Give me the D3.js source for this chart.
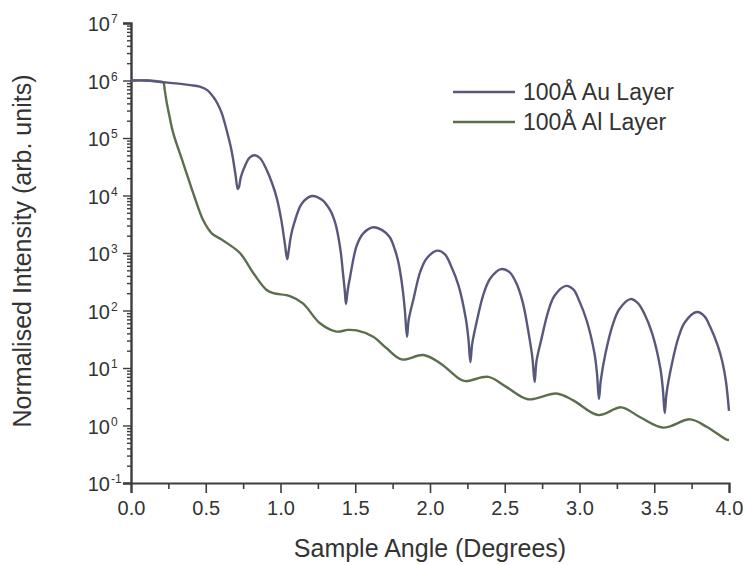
<!DOCTYPE html>
<html>
<head>
<meta charset="utf-8">
<script src="https://cdn.jsdelivr.net/npm/d3@7"></script>
<style>
  html, body { margin: 0; padding: 0; background: #fff; }
  svg { display: block; font-family: "Liberation Sans", Arial, sans-serif; }
</style>
</head>
<body>
<svg id="chart" width="745" height="565"></svg>
<script>
// ---- Data ----
const seriesNames = ["100Å Au Layer", "100Å Al Layer"];
const seriesColors = ["#58587c", "#5b6f4d"];

// [angle (deg), normalised intensity]
const auLayer = [
  [0.00,1.0e6],[0.10,1.0e6],[0.20,9.4e5],[0.30,8.9e5],[0.40,8.3e5],[0.46,7.8e5],
  [0.51,6.8e5],[0.55,5.2e5],[0.58,3.9e5],[0.607,2.7e5],[0.63,1.7e5],[0.651,1.05e5],
  [0.67,6.5e4],[0.684,4.1e4],[0.70,2.2e4],[0.714,1.3e4],[0.722,1.4e4],[0.735,2.1e4],
  [0.763,3.3e4],[0.795,4.6e4],[0.829,5.0e4],[0.865,4.4e4],[0.907,2.8e4],[0.945,1.6e4],
  [0.975,9.0e3],[1.005,3.8e3],[1.03,1.4e3],[1.045,7.8e2],[1.055,1.1e3],[1.07,2.0e3],
  [1.09,3.2e3],[1.142,7.2e3],[1.21,9.8e3],[1.275,8.5e3],[1.331,5.6e3],[1.365,3.4e3],
  [1.387,1.9e3],[1.405,9.5e2],[1.416,5.0e2],[1.43,2.2e2],[1.438,1.3e2],
  [1.45,2.3e2],[1.465,3.8e2],[1.51,1.35e3],[1.554,2.2e3],[1.62,2.8e3],[1.68,2.5e3],
  [1.73,1.9e3],[1.765,1.15e3],[1.79,6.6e2],[1.815,2.6e2],[1.832,1.0e2],[1.846,3.5e1],
  [1.858,7.0e1],[1.89,1.6e2],[1.935,4.75e2],[1.98,8.2e2],[2.05,1.1e3],[2.10,9.5e2],
  [2.138,6.2e2],[2.19,2.77e2],[2.24,7.1e1],[2.258,3.0e1],[2.27,1.27e1],
  [2.282,2.6e1],[2.313,6.5e1],[2.36,2.0e2],[2.403,3.6e2],[2.475,5.25e2],[2.53,4.7e2],
  [2.575,3.1e2],[2.62,1.4e2],[2.66,4.0e1],[2.685,1.5e1],[2.70,5.7],
  [2.712,1.3e1],[2.743,3.0e1],[2.79,9.5e1],[2.833,1.8e2],[2.91,2.68e2],[2.96,2.3e2],
  [2.997,1.5e2],[3.048,6.7e1],[3.10,1.8e1],[3.117,8.0],[3.13,2.9],
  [3.142,6.0],[3.174,1.8e1],[3.222,5.6e1],[3.266,1.05e2],[3.34,1.58e2],[3.39,1.35e2],
  [3.434,8.8e1],[3.486,4.0e1],[3.539,1.05e1],[3.557,4.5],[3.57,1.65],
  [3.582,3.6],[3.614,1.05e1],[3.662,3.4e1],[3.706,6.3e1],[3.785,9.4e1],[3.835,8.0e1],
  [3.874,5.2e1],[3.926,2.4e1],[3.955,1.3e1],[3.979,6.0],[4.00,1.8]
];

const alLayer = [
  [0.00,1.0e6],[0.10,1.0e6],[0.20,9.5e5],[0.217,9.2e5],[0.225,7.0e5],[0.24,4.0e5],
  [0.26,2.2e5],[0.283,1.2e5],[0.35,3.6e4],[0.416,1.1e4],[0.483,3.7e3],[0.54,2.2e3],
  [0.60,1.75e3],[0.64,1.5e3],[0.73,9.9e2],[0.82,4.4e2],[0.905,2.3e2],[0.952,2.0e2],
  [1.063,1.78e2],[1.15,1.33e2],[1.264,6.0e1],[1.376,4.3e1],[1.45,4.6e1],[1.51,4.5e1],
  [1.62,3.5e1],[1.71,2.2e1],[1.81,1.41e1],[1.956,1.68e1],[2.07,1.2e1],[2.20,6.4],
  [2.24,5.9],[2.39,7.0],[2.51,4.7],[2.655,2.86],[2.845,3.6],[2.955,2.77],[3.125,1.52],
  [3.28,2.07],[3.40,1.42],[3.56,0.92],[3.74,1.28],[3.85,0.95],[3.98,0.575],[4.00,0.56]
];

const xTickValues = [0, 0.5, 1.0, 1.5, 2.0, 2.5, 3.0, 3.5, 4.0];
const xTickLabels = ["0.0","0.5","1.0","1.5","2.0","2.5","3.0","3.5","4.0"];
const yExponents = [-1, 0, 1, 2, 3, 4, 5, 6, 7];
const xTitle = "Sample Angle (Degrees)";
const yTitle = "Normalised Intensity (arb. units)";

// ---- Layout ----
const svg = d3.select("#chart");
const mLeft = 131, mRight = 729, mTop = 23, mBottom = 483;
const axisColor = "#3d3d3d";
const textColor = "#333";

const x = d3.scaleLinear().domain([0, 4]).range([mLeft, mRight]);
const y = d3.scaleLog().domain([0.1, 1e7]).range([mBottom, mTop]);

// X axis
const xMinor = d3.range(0, 4.001, 0.25).filter(v => Math.abs(v * 2 - Math.round(v * 2)) > 1e-6);
const gx = svg.append("g").attr("transform", `translate(0,${mBottom})`);
gx.call(d3.axisBottom(x).tickValues(xMinor).tickSize(6).tickFormat(""))
  .call(g => g.select(".domain").remove());
gx.append("g").call(d3.axisBottom(x).tickValues(xTickValues).tickSize(10)
  .tickFormat((d, i) => xTickLabels[i]).tickPadding(8))
  .call(g => g.select(".domain").attr("stroke-width", 2.2));
gx.selectAll("line").attr("stroke", axisColor).attr("stroke-width", 1.6);
gx.selectAll(".domain").attr("stroke", axisColor);
gx.selectAll("text").attr("fill", textColor).style("font-size", "20px")
  .style("font-family", "'Liberation Sans', Arial, sans-serif");

// Y axis
const yMinor = [];
yExponents.slice(0, -1).forEach(e => { for (let k = 2; k <= 9; k++) yMinor.push(k * Math.pow(10, e)); });
const gy = svg.append("g").attr("transform", `translate(${mLeft},0)`);
gy.call(d3.axisLeft(y).tickValues(yMinor).tickSize(4).tickFormat(""))
  .call(g => g.select(".domain").remove());
gy.append("g").call(d3.axisLeft(y).tickValues(yExponents.map(e => Math.pow(10, e)))
  .tickSize(8).tickFormat(""))
  .call(g => g.select(".domain").attr("stroke-width", 2.4));
gy.selectAll("line").attr("stroke", axisColor).attr("stroke-width", 1.4);
gy.selectAll(".domain").attr("stroke", axisColor);

// Y tick labels 10^n
const yl = svg.append("g").attr("fill", textColor);
yExponents.forEach(e => {
  const ty = y(Math.pow(10, e));
  yl.append("text").attr("x", 110).attr("y", ty + 8).attr("text-anchor", "end")
    .style("font-size", "20px").text("10");
  yl.append("text").attr("x", 111).attr("y", ty).attr("text-anchor", "start")
    .style("font-size", "12px").text(e < 0 ? "-" + Math.abs(e) : String(e));
});

// Lines
const line = d3.line().x(d => x(d[0])).y(d => y(d[1])).curve(d3.curveCatmullRom.alpha(0.5));
[alLayer, auLayer].forEach((data, i) => {
  svg.append("path").datum(data)
    .attr("fill", "none")
    .attr("stroke", seriesColors[1 - i])
    .attr("stroke-width", 2.4)
    .attr("stroke-linejoin", "round")
    .attr("d", line);
});

// Legend
const lg = svg.append("g");
seriesNames.forEach((name, i) => {
  const ly = 92 + i * 30;
  lg.append("line").attr("x1", 453).attr("x2", 515).attr("y1", ly).attr("y2", ly)
    .attr("stroke", seriesColors[i]).attr("stroke-width", 2.4);
  lg.append("text").attr("x", 523).attr("y", ly + 8).attr("fill", textColor)
    .style("font-size", "23px").text(name);
});

// Axis titles
svg.append("text").attr("x", 430).attr("y", 557)
  .attr("text-anchor", "middle").attr("fill", textColor)
  .style("font-size", "25px").text(xTitle);
svg.append("text").attr("transform", `translate(31,251) rotate(-90)`)
  .attr("text-anchor", "middle").attr("fill", textColor)
  .style("font-size", "25px").text(yTitle);
</script>
</body>
</html>
